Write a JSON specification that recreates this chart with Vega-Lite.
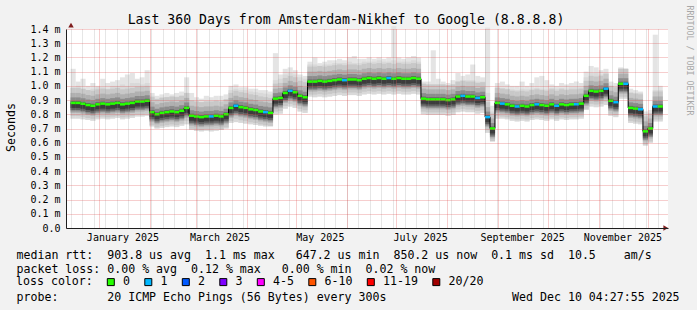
{
"$schema": "https://vega.github.io/schema/vega-lite/v6.json",
"width": 602, "height": 199,
"autosize": {"type": "none"},
"padding": {"left": 66, "top": 29, "right": 29, "bottom": 82},
"background": "#f2f2f2",
"config": {"view": {"stroke": null, "fill": "white"}, "font": "DejaVu Sans Mono"},
"title": {"text": "Last 360 Days from Amsterdam-Nikhef to Google (8.8.8.8)", "font": "DejaVu Sans Mono", "fontSize": 13.2, "fontWeight": "normal", "color": "#000000", "anchor": "middle", "frame": "group", "dx": -21, "dy": 38, "baseline": "alphabetic", "offset": 6},
"data": {"values": [
{"t":"2024-12-16T12:00","m":0.88,"lo":0.77,"hi":0.99,"mx":1.12,"l":"0"},
{"t":"2024-12-19T12:00","m":0.88,"lo":0.77,"hi":1.0,"mx":1.03,"l":"0"},
{"t":"2024-12-22T12:00","m":0.875,"lo":0.765,"hi":0.98,"mx":1.05,"l":"0"},
{"t":"2024-12-25T12:00","m":0.865,"lo":0.76,"hi":0.97,"mx":1.0,"l":"0"},
{"t":"2024-12-28T12:00","m":0.86,"lo":0.755,"hi":0.98,"mx":1.02,"l":"0"},
{"t":"2024-12-31T12:00","m":0.87,"lo":0.765,"hi":0.99,"mx":1.0,"l":"0"},
{"t":"2025-01-03T12:00","m":0.875,"lo":0.77,"hi":0.99,"mx":1.05,"l":"0"},
{"t":"2025-01-06T12:00","m":0.87,"lo":0.765,"hi":0.98,"mx":1.02,"l":"0"},
{"t":"2025-01-09T12:00","m":0.875,"lo":0.77,"hi":1.0,"mx":1.03,"l":"0"},
{"t":"2025-01-12T12:00","m":0.88,"lo":0.775,"hi":1.0,"mx":1.04,"l":"0"},
{"t":"2025-01-15T12:00","m":0.87,"lo":0.765,"hi":1.01,"mx":1.06,"l":"0"},
{"t":"2025-01-18T12:00","m":0.875,"lo":0.77,"hi":1.0,"mx":1.08,"l":"0"},
{"t":"2025-01-21T12:00","m":0.88,"lo":0.775,"hi":1.02,"mx":1.09,"l":"0"},
{"t":"2025-01-24T12:00","m":0.89,"lo":0.785,"hi":1.02,"mx":1.05,"l":"0"},
{"t":"2025-01-27T12:00","m":0.89,"lo":0.785,"hi":1.01,"mx":1.06,"l":"0"},
{"t":"2025-01-30T12:00","m":0.895,"lo":0.79,"hi":1.02,"mx":1.11,"l":"0"},
{"t":"2025-02-02T12:00","m":0.815,"lo":0.715,"hi":0.93,"mx":0.95,"l":"0"},
{"t":"2025-02-05T12:00","m":0.8,"lo":0.7,"hi":0.91,"mx":0.93,"l":"0"},
{"t":"2025-02-08T12:00","m":0.81,"lo":0.705,"hi":0.92,"mx":0.94,"l":"0"},
{"t":"2025-02-11T12:00","m":0.815,"lo":0.71,"hi":0.92,"mx":0.95,"l":"0"},
{"t":"2025-02-14T12:00","m":0.82,"lo":0.715,"hi":0.92,"mx":0.94,"l":"0"},
{"t":"2025-02-17T12:00","m":0.815,"lo":0.71,"hi":0.925,"mx":0.95,"l":"0"},
{"t":"2025-02-20T12:00","m":0.825,"lo":0.72,"hi":0.93,"mx":0.96,"l":"0"},
{"t":"2025-02-23T12:00","m":0.845,"lo":0.73,"hi":0.95,"mx":1.06,"l":"0"},
{"t":"2025-02-26T12:00","m":0.79,"lo":0.69,"hi":0.9,"mx":0.95,"l":"0"},
{"t":"2025-03-01T12:00","m":0.785,"lo":0.685,"hi":0.89,"mx":0.92,"l":"0"},
{"t":"2025-03-04T12:00","m":0.78,"lo":0.68,"hi":0.885,"mx":0.91,"l":"0"},
{"t":"2025-03-07T12:00","m":0.785,"lo":0.685,"hi":0.89,"mx":0.93,"l":"0"},
{"t":"2025-03-10T12:00","m":0.785,"lo":0.68,"hi":0.89,"mx":0.92,"l":"1"},
{"t":"2025-03-13T12:00","m":0.79,"lo":0.685,"hi":0.895,"mx":0.93,"l":"0"},
{"t":"2025-03-16T12:00","m":0.785,"lo":0.69,"hi":0.89,"mx":0.93,"l":"0"},
{"t":"2025-03-19T12:00","m":0.8,"lo":0.7,"hi":0.9,"mx":0.94,"l":"0"},
{"t":"2025-03-22T12:00","m":0.845,"lo":0.74,"hi":0.97,"mx":1.0,"l":"0"},
{"t":"2025-03-25T12:00","m":0.86,"lo":0.745,"hi":0.98,"mx":1.01,"l":"1"},
{"t":"2025-03-28T12:00","m":0.85,"lo":0.74,"hi":0.97,"mx":0.99,"l":"0"},
{"t":"2025-03-31T12:00","m":0.845,"lo":0.735,"hi":0.97,"mx":0.99,"l":"0"},
{"t":"2025-04-03T12:00","m":0.835,"lo":0.73,"hi":0.96,"mx":0.98,"l":"0"},
{"t":"2025-04-06T12:00","m":0.83,"lo":0.725,"hi":0.955,"mx":0.98,"l":"0"},
{"t":"2025-04-09T12:00","m":0.82,"lo":0.72,"hi":0.95,"mx":0.97,"l":"0"},
{"t":"2025-04-12T12:00","m":0.815,"lo":0.715,"hi":0.945,"mx":0.97,"l":"1"},
{"t":"2025-04-15T12:00","m":0.81,"lo":0.715,"hi":0.94,"mx":0.96,"l":"0"},
{"t":"2025-04-18T12:00","m":0.91,"lo":0.8,"hi":1.04,"mx":1.23,"l":"0"},
{"t":"2025-04-21T12:00","m":0.915,"lo":0.805,"hi":1.05,"mx":1.08,"l":"0"},
{"t":"2025-04-24T12:00","m":0.95,"lo":0.84,"hi":1.08,"mx":1.12,"l":"0"},
{"t":"2025-04-27T12:00","m":0.965,"lo":0.855,"hi":1.09,"mx":1.13,"l":"1"},
{"t":"2025-04-30T12:00","m":0.955,"lo":0.845,"hi":1.08,"mx":1.11,"l":"0"},
{"t":"2025-05-03T12:00","m":0.93,"lo":0.82,"hi":1.06,"mx":1.08,"l":"0"},
{"t":"2025-05-06T12:00","m":0.92,"lo":0.81,"hi":1.05,"mx":1.07,"l":"0"},
{"t":"2025-05-09T12:00","m":1.03,"lo":0.925,"hi":1.15,"mx":1.17,"l":"0"},
{"t":"2025-05-12T12:00","m":1.03,"lo":0.92,"hi":1.15,"mx":1.2,"l":"0"},
{"t":"2025-05-15T12:00","m":1.035,"lo":0.925,"hi":1.14,"mx":1.16,"l":"0"},
{"t":"2025-05-18T12:00","m":1.03,"lo":0.92,"hi":1.15,"mx":1.17,"l":"0"},
{"t":"2025-05-21T12:00","m":1.035,"lo":0.925,"hi":1.15,"mx":1.18,"l":"0"},
{"t":"2025-05-24T12:00","m":1.04,"lo":0.93,"hi":1.16,"mx":1.18,"l":"0"},
{"t":"2025-05-27T12:00","m":1.045,"lo":0.935,"hi":1.16,"mx":1.19,"l":"0"},
{"t":"2025-05-30T12:00","m":1.04,"lo":0.93,"hi":1.16,"mx":1.18,"l":"1"},
{"t":"2025-06-02T12:00","m":1.045,"lo":0.935,"hi":1.17,"mx":1.2,"l":"0"},
{"t":"2025-06-05T12:00","m":1.045,"lo":0.935,"hi":1.16,"mx":1.21,"l":"0"},
{"t":"2025-06-08T12:00","m":1.04,"lo":0.93,"hi":1.16,"mx":1.19,"l":"0"},
{"t":"2025-06-11T12:00","m":1.05,"lo":0.94,"hi":1.17,"mx":1.19,"l":"0"},
{"t":"2025-06-14T12:00","m":1.055,"lo":0.945,"hi":1.17,"mx":1.2,"l":"0"},
{"t":"2025-06-17T12:00","m":1.05,"lo":0.94,"hi":1.17,"mx":1.19,"l":"0"},
{"t":"2025-06-20T12:00","m":1.055,"lo":0.945,"hi":1.18,"mx":1.2,"l":"0"},
{"t":"2025-06-23T12:00","m":1.05,"lo":0.94,"hi":1.17,"mx":1.19,"l":"0"},
{"t":"2025-06-26T12:00","m":1.055,"lo":0.945,"hi":1.17,"mx":1.2,"l":"1"},
{"t":"2025-06-29T12:00","m":1.05,"lo":0.94,"hi":1.18,"mx":1.42,"l":"0"},
{"t":"2025-07-02T12:00","m":1.055,"lo":0.945,"hi":1.17,"mx":1.2,"l":"0"},
{"t":"2025-07-05T12:00","m":1.05,"lo":0.94,"hi":1.17,"mx":1.19,"l":"0"},
{"t":"2025-07-08T12:00","m":1.05,"lo":0.94,"hi":1.17,"mx":1.2,"l":"0"},
{"t":"2025-07-11T12:00","m":1.055,"lo":0.945,"hi":1.18,"mx":1.21,"l":"0"},
{"t":"2025-07-14T12:00","m":1.05,"lo":0.94,"hi":1.17,"mx":1.2,"l":"0"},
{"t":"2025-07-17T12:00","m":0.91,"lo":0.8,"hi":1.0,"mx":1.03,"l":"0"},
{"t":"2025-07-20T12:00","m":0.905,"lo":0.795,"hi":0.995,"mx":1.03,"l":"0"},
{"t":"2025-07-23T12:00","m":0.905,"lo":0.795,"hi":1.0,"mx":1.25,"l":"0"},
{"t":"2025-07-26T12:00","m":0.905,"lo":0.795,"hi":0.99,"mx":1.05,"l":"0"},
{"t":"2025-07-29T12:00","m":0.905,"lo":0.795,"hi":1.0,"mx":1.03,"l":"0"},
{"t":"2025-08-01T12:00","m":0.9,"lo":0.79,"hi":0.99,"mx":1.02,"l":"0"},
{"t":"2025-08-04T12:00","m":0.905,"lo":0.795,"hi":1.0,"mx":1.04,"l":"0"},
{"t":"2025-08-07T12:00","m":0.925,"lo":0.815,"hi":1.03,"mx":1.09,"l":"0"},
{"t":"2025-08-10T12:00","m":0.93,"lo":0.82,"hi":1.04,"mx":1.07,"l":"1"},
{"t":"2025-08-13T12:00","m":0.925,"lo":0.815,"hi":1.04,"mx":1.08,"l":"0"},
{"t":"2025-08-16T12:00","m":0.925,"lo":0.815,"hi":1.04,"mx":1.15,"l":"0"},
{"t":"2025-08-19T12:00","m":0.915,"lo":0.805,"hi":1.03,"mx":1.07,"l":"1"},
{"t":"2025-08-22T12:00","m":0.92,"lo":0.81,"hi":1.03,"mx":1.06,"l":"0"},
{"t":"2025-08-25T12:00","m":0.78,"lo":0.67,"hi":0.95,"mx":1.41,"l":"1"},
{"t":"2025-08-28T12:00","m":0.7,"lo":0.62,"hi":0.82,"mx":0.86,"l":"0"},
{"t":"2025-08-31T12:00","m":0.88,"lo":0.77,"hi":0.99,"mx":1.02,"l":"0"},
{"t":"2025-09-03T12:00","m":0.875,"lo":0.77,"hi":0.985,"mx":1.03,"l":"1"},
{"t":"2025-09-06T12:00","m":0.87,"lo":0.765,"hi":0.98,"mx":1.01,"l":"0"},
{"t":"2025-09-09T12:00","m":0.86,"lo":0.755,"hi":0.975,"mx":1.0,"l":"0"},
{"t":"2025-09-12T12:00","m":0.855,"lo":0.75,"hi":0.97,"mx":1.0,"l":"1"},
{"t":"2025-09-15T12:00","m":0.86,"lo":0.755,"hi":0.98,"mx":1.03,"l":"0"},
{"t":"2025-09-18T12:00","m":0.855,"lo":0.75,"hi":0.975,"mx":1.0,"l":"0"},
{"t":"2025-09-21T12:00","m":0.865,"lo":0.76,"hi":0.98,"mx":1.02,"l":"0"},
{"t":"2025-09-24T12:00","m":0.87,"lo":0.765,"hi":0.985,"mx":1.06,"l":"1"},
{"t":"2025-09-27T12:00","m":0.865,"lo":0.76,"hi":0.98,"mx":1.07,"l":"0"},
{"t":"2025-09-30T12:00","m":0.86,"lo":0.755,"hi":0.975,"mx":1.04,"l":"0"},
{"t":"2025-10-03T12:00","m":0.87,"lo":0.765,"hi":0.985,"mx":1.01,"l":"0"},
{"t":"2025-10-06T12:00","m":0.86,"lo":0.755,"hi":0.98,"mx":1.0,"l":"1"},
{"t":"2025-10-09T12:00","m":0.87,"lo":0.765,"hi":0.985,"mx":1.02,"l":"0"},
{"t":"2025-10-12T12:00","m":0.865,"lo":0.76,"hi":0.98,"mx":1.01,"l":"0"},
{"t":"2025-10-15T12:00","m":0.87,"lo":0.765,"hi":0.99,"mx":1.02,"l":"0"},
{"t":"2025-10-18T12:00","m":0.87,"lo":0.765,"hi":0.99,"mx":1.03,"l":"1"},
{"t":"2025-10-21T12:00","m":0.875,"lo":0.77,"hi":0.99,"mx":1.02,"l":"0"},
{"t":"2025-10-24T12:00","m":0.93,"lo":0.83,"hi":1.06,"mx":1.1,"l":"0"},
{"t":"2025-10-27T12:00","m":0.965,"lo":0.855,"hi":1.09,"mx":1.14,"l":"0"},
{"t":"2025-10-30T12:00","m":0.96,"lo":0.85,"hi":1.09,"mx":1.13,"l":"0"},
{"t":"2025-11-02T12:00","m":0.965,"lo":0.855,"hi":1.08,"mx":1.11,"l":"0"},
{"t":"2025-11-05T12:00","m":0.98,"lo":0.865,"hi":1.09,"mx":1.12,"l":"1"},
{"t":"2025-11-08T12:00","m":0.895,"lo":0.79,"hi":1.0,"mx":1.03,"l":"0"},
{"t":"2025-11-11T12:00","m":0.885,"lo":0.78,"hi":0.99,"mx":1.02,"l":"1"},
{"t":"2025-11-14T12:00","m":1.015,"lo":0.91,"hi":1.12,"mx":1.13,"l":"0"},
{"t":"2025-11-17T12:00","m":1.015,"lo":0.91,"hi":1.12,"mx":1.12,"l":"1"},
{"t":"2025-11-20T12:00","m":0.845,"lo":0.74,"hi":0.955,"mx":0.98,"l":"0"},
{"t":"2025-11-23T12:00","m":0.84,"lo":0.735,"hi":0.95,"mx":0.97,"l":"0"},
{"t":"2025-11-26T12:00","m":0.835,"lo":0.73,"hi":0.95,"mx":0.96,"l":"1"},
{"t":"2025-11-29T12:00","m":0.68,"lo":0.58,"hi":0.8,"mx":0.82,"l":"0"},
{"t":"2025-12-02T12:00","m":0.7,"lo":0.6,"hi":0.81,"mx":0.83,"l":"0"},
{"t":"2025-12-05T12:00","m":0.855,"lo":0.75,"hi":0.97,"mx":1.36,"l":"1"},
{"t":"2025-12-08T12:00","m":0.855,"lo":0.75,"hi":0.97,"mx":1.0,"l":"0"}
]},
"resolve": {"axis": {"x": "independent", "y": "independent"}},
"layer": [
{"mark": {"type": "bar", "width": 5.1, "color": "#e4e4e4"},
 "encoding": {
  "x": {"field": "t", "type": "temporal", "scale": {"domain": [{"year":2024,"month":12,"date":15,"hours":4,"minutes":28},{"year":2025,"month":12,"date":10,"hours":4,"minutes":28}], "nice": false},
        "axis": {"orient": "bottom", "tickCount": {"interval": "week", "step": 1}, "tickRound": true, "grid": true, "gridColor": "#8f8f8f", "gridOpacity": 0.45, "gridDash": [1, 1], "labels": false, "ticks": false, "domain": false, "zindex": 1,
                 "title": "RRDTOOL / TOBI OETIKER", "titleFont": "DejaVu Sans Mono", "titleFontSize": 8.3, "titleFontWeight": "normal", "titleColor": "#a8a8a8", "titleAngle": 90, "titleAlign": "left", "titleBaseline": "middle", "titleX": 622, "titleY": -223}},
  "y": {"field": "lo", "type": "quantitative", "scale": {"domain": [0, 1.4], "nice": false},
        "axis": {"orient": "left", "values": [0,0.1,0.2,0.3,0.4,0.5,0.6,0.7,0.8,0.9,1.0,1.1,1.2,1.3,1.4], "tickRound": true, "labelExpr": "datum.value == 0 ? '0.0' : format(datum.value, '.1f') + ' m'", "labelFont": "DejaVu Sans Mono", "labelFontSize": 10, "labelColor": "#000000", "labelPadding": 6, "ticks": false, "tickSize": 0, "grid": true, "gridColor": "#de4f4f", "gridOpacity": 0.55, "gridDash": [1, 1], "domain": true, "domainColor": "#1f1f1f", "zindex": 1,
                 "title": "Seconds", "titleFont": "DejaVu Sans Mono", "titleFontSize": 11.6, "titleFontWeight": "normal", "titleColor": "#000000", "titleAngle": 270, "titleAlign": "center", "titleBaseline": "middle", "titleX": -55, "titleY": 98}},
  "y2": {"field": "mx"}}},
{"mark": {"type": "bar", "width": 5.1, "color": "#d9d9d9"},
 "encoding": {
  "x": {"field": "t", "type": "temporal", "scale": {"domain": [{"year":2024,"month":12,"date":15,"hours":4,"minutes":28},{"year":2025,"month":12,"date":10,"hours":4,"minutes":28}], "nice": false},
        "axis": {"orient": "bottom", "tickCount": {"interval": "month", "step": 1}, "tickRound": true, "grid": true, "gridColor": "#de4f4f", "gridOpacity": 0.55, "gridDash": [1, 1], "labels": false, "ticks": false, "domain": false, "zindex": 1,
                 "title": "probe:\u00a0\u00a0\u00a0\u00a0\u00a0\u00a0 20 ICMP Echo Pings (56 Bytes) every 300s\u00a0\u00a0\u00a0\u00a0\u00a0\u00a0\u00a0\u00a0\u00a0\u00a0\u00a0\u00a0\u00a0\u00a0\u00a0\u00a0\u00a0 Wed Dec 10 04:27:55 2025", "titleFont": "DejaVu Sans Mono", "titleFontSize": 11.6, "titleFontWeight": "normal", "titleColor": "#000000", "titleAlign": "left", "titleBaseline": "alphabetic", "titleX": -50, "titleY": 72}},
  "y": {"field": "lo", "type": "quantitative", "scale": {"domain": [0, 1.4], "nice": false}, "axis": null},
  "y2": {"field": "hi"}}},
{"mark": {"type": "tick", "orient": "horizontal", "size": 5.1, "thickness": 28, "color": "#c8c8c8", "opacity": 1, "yOffset": -1},
 "encoding": {
  "x": {"field": "t", "type": "temporal", "scale": {"domain": [{"year":2024,"month":12,"date":15,"hours":4,"minutes":28},{"year":2025,"month":12,"date":10,"hours":4,"minutes":28}], "nice": false},
        "axis": {"orient": "bottom", "values": [{"year":2025,"month":1,"date":15,"hours":12},{"year":2025,"month":3,"date":15,"hours":12},{"year":2025,"month":5,"date":15,"hours":12},{"year":2025,"month":7,"date":15,"hours":12},{"year":2025,"month":9,"date":15,"hours":12},{"year":2025,"month":11,"date":15,"hours":12}], "format": "%B %Y", "labelFont": "DejaVu Sans Mono", "labelFontSize": 10, "labelColor": "#000000", "labelBaseline": "alphabetic", "labelPadding": 12.5, "labelOverlap": false, "labelFlush": false, "labelBound": false, "ticks": false, "tickSize": 0, "grid": false, "domain": true, "domainColor": "#1f1f1f", "zindex": 1,
                 "title": ["median rtt:\u00a0 903.8 us avg\u00a0 1.1 ms max\u00a0\u00a0 647.2 us min\u00a0 850.2 us now\u00a0 0.1 ms sd\u00a0 10.5\u00a0\u00a0\u00a0 am/s", "packet loss: 0.00 % avg\u00a0 0.12 % max\u00a0\u00a0 0.00 % min\u00a0 0.02 % now"], "titleFont": "DejaVu Sans Mono", "titleFontSize": 11.6, "titleFontWeight": "normal", "titleColor": "#000000", "titleAlign": "left", "titleBaseline": "alphabetic", "titleLineHeight": 14, "titleX": -50, "titleY": 30}},
  "y": {"field": "m", "type": "quantitative", "scale": {"domain": [0, 1.4], "nice": false}, "axis": null}}},
{"mark": {"type": "tick", "orient": "horizontal", "size": 5.1, "thickness": 20, "color": "#b0b0b0", "opacity": 1, "yOffset": 0},
 "encoding": {
  "x": {"field": "t", "type": "temporal", "scale": {"domain": [{"year":2024,"month":12,"date":15,"hours":4,"minutes":28},{"year":2025,"month":12,"date":10,"hours":4,"minutes":28}], "nice": false}, "axis": null},
  "y": {"field": "m", "type": "quantitative", "scale": {"domain": [0, 1.4], "nice": false}, "axis": null}}},
{"mark": {"type": "tick", "orient": "horizontal", "size": 5.1, "thickness": 14, "color": "#8c8c8c", "opacity": 1, "yOffset": 1.5},
 "encoding": {
  "x": {"field": "t", "type": "temporal", "scale": {"domain": [{"year":2024,"month":12,"date":15,"hours":4,"minutes":28},{"year":2025,"month":12,"date":10,"hours":4,"minutes":28}], "nice": false}, "axis": null},
  "y": {"field": "m", "type": "quantitative", "scale": {"domain": [0, 1.4], "nice": false}, "axis": null}}},
{"mark": {"type": "tick", "orient": "horizontal", "size": 5.1, "thickness": 9, "color": "#606060", "opacity": 1, "yOffset": 2.5},
 "encoding": {
  "x": {"field": "t", "type": "temporal", "scale": {"domain": [{"year":2024,"month":12,"date":15,"hours":4,"minutes":28},{"year":2025,"month":12,"date":10,"hours":4,"minutes":28}], "nice": false}, "axis": null},
  "y": {"field": "m", "type": "quantitative", "scale": {"domain": [0, 1.4], "nice": false}, "axis": null}}},
{"mark": {"type": "tick", "orient": "horizontal", "size": 5.1, "thickness": 5, "color": "#3c3c3c", "opacity": 1, "yOffset": 2.5},
 "encoding": {
  "x": {"field": "t", "type": "temporal", "scale": {"domain": [{"year":2024,"month":12,"date":15,"hours":4,"minutes":28},{"year":2025,"month":12,"date":10,"hours":4,"minutes":28}], "nice": false}, "axis": null},
  "y": {"field": "m", "type": "quantitative", "scale": {"domain": [0, 1.4], "nice": false}, "axis": null}}},
{"mark": {"type": "line", "interpolate": "step", "color": "#000000", "strokeWidth": 1},
 "encoding": {
  "x": {"field": "t", "type": "temporal", "scale": {"domain": [{"year":2024,"month":12,"date":15,"hours":4,"minutes":28},{"year":2025,"month":12,"date":10,"hours":4,"minutes":28}], "nice": false}, "axis": null},
  "y": {"field": "m", "type": "quantitative", "scale": {"domain": [0, 1.4], "nice": false}, "axis": null}}},
{"mark": {"type": "tick", "orient": "horizontal", "size": 5.1, "thickness": 2.5, "opacity": 1},
 "encoding": {
  "x": {"field": "t", "type": "temporal", "scale": {"domain": [{"year":2024,"month":12,"date":15,"hours":4,"minutes":28},{"year":2025,"month":12,"date":10,"hours":4,"minutes":28}], "nice": false}, "axis": null},
  "y": {"field": "m", "type": "quantitative", "scale": {"domain": [0, 1.4], "nice": false}, "axis": null},
  "color": {"field": "l", "type": "nominal",
            "scale": {"domain": ["0", "1", "2", "3", "4-5", "6-10", "11-19", "20/20"], "range": ["#26ff00", "#00b8ff", "#0059ff", "#7e00ff", "#ff00ff", "#ff5500", "#ff0000", "#a10000"]},
            "legend": {"orient": "none", "legendX": -50, "legendY": 247, "direction": "horizontal", "title": "loss color:", "titleOrient": "left", "titlePadding": 12, "titleFont": "DejaVu Sans Mono", "titleFontSize": 11.6, "titleFontWeight": "normal", "titleColor": "#000000", "titleBaseline": "middle", "labelFont": "DejaVu Sans Mono", "labelFontSize": 11.6, "labelColor": "#000000", "labelOffset": 6.5, "columnPadding": 11.5, "symbolType": "square", "symbolSize": 49, "symbolStrokeColor": "#000000", "symbolStrokeWidth": 1, "symbolOpacity": 1, "labelLimit": 200}}}},
{"data": {"values": [{}]},
 "mark": {"type": "point", "shape": "triangle-up", "filled": true, "color": "#801f1f", "size": 30, "opacity": 1},
 "encoding": {
  "x": {"datum": {"year":2024,"month":12,"date":15,"hours":4,"minutes":28}, "type": "temporal", "scale": {"domain": [{"year":2024,"month":12,"date":15,"hours":4,"minutes":28},{"year":2025,"month":12,"date":10,"hours":4,"minutes":28}], "nice": false}, "axis": null},
  "y": {"datum": 1.427, "type": "quantitative", "scale": {"domain": [0, 1.4], "nice": false}, "axis": null}}},
{"data": {"values": [{}]},
 "mark": {"type": "point", "shape": "triangle-right", "filled": true, "color": "#801f1f", "size": 30, "opacity": 1},
 "encoding": {
  "x": {"datum": {"year":2025,"month":12,"date":11,"hours":20,"minutes":30}, "type": "temporal", "scale": {"domain": [{"year":2024,"month":12,"date":15,"hours":4,"minutes":28},{"year":2025,"month":12,"date":10,"hours":4,"minutes":28}], "nice": false}, "axis": null},
  "y": {"datum": 0, "type": "quantitative", "scale": {"domain": [0, 1.4], "nice": false}, "axis": null}}}
]
}
